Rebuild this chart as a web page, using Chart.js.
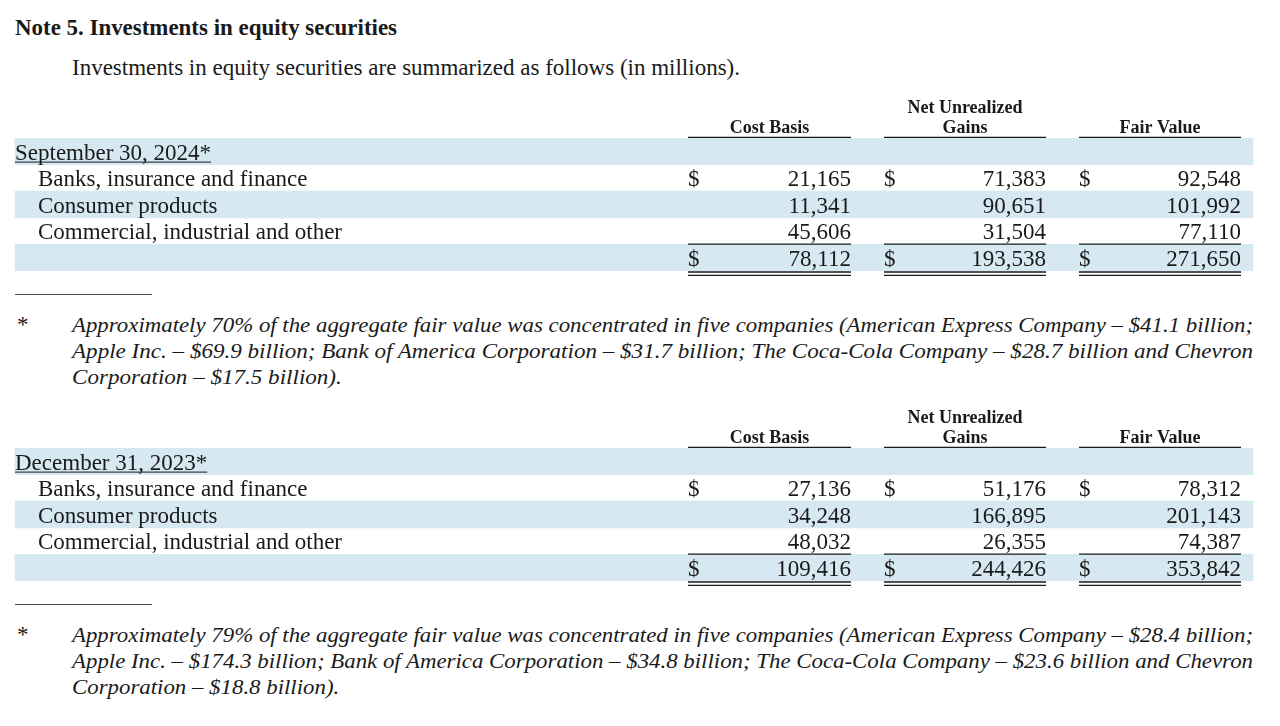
<!DOCTYPE html>
<html>
<head>
<meta charset="utf-8">
<script src="https://cdn.jsdelivr.net/npm/chart.js@4.4.1/dist/chart.umd.min.js"></script>
<style>
  html, body { margin: 0; padding: 0; background: #ffffff; }
  body { width: 1280px; height: 726px; position: relative; overflow: hidden;
         font-family: "Liberation Serif", "Times New Roman", serif; color: #1a1a1a; }
  .t { position: absolute; white-space: nowrap; line-height: 1; transform-origin: 0 0; }
  .title { font-weight: bold; font-size: 23px; }
  .sub { font-size: 23px; }
  .fn { font-style: italic; font-size: 22px; }
  .star { font-size: 23px; }
  .rule { position: absolute; height: 1px; background: #4a4a4a; }
  canvas { position: absolute; left: 0; }
</style>
</head>
<body>
<div class="t title" data-w="382" style="left:15px; top:15.7px;">Note 5. Investments in equity securities</div>
<div class="t sub" data-w="668" style="left:72px; top:56.2px;">Investments in equity securities are summarized as follows (in millions).</div>

<canvas id="table2024" width="1280" height="200" style="top:90px;"></canvas>
<canvas id="table2023" width="1280" height="200" style="top:400px;"></canvas>

<div id="notes"></div>

<script>
// ---------- DATA ----------
const categories = ['Banks, insurance and finance', 'Consumer products', 'Commercial, industrial and other'];
const columnHeaders = [['', 'Cost Basis'], ['Net Unrealized', 'Gains'], ['', 'Fair Value']];
const periods = ['September 30, 2024*', 'December 31, 2023*'];

const costBasis2024 = [21165, 11341, 45606];
const gains2024     = [71383, 90651, 31504];
const fairValue2024 = [92548, 101992, 77110];
const totals2024    = [78112, 193538, 271650];

const costBasis2023 = [27136, 34248, 48032];
const gains2023     = [51176, 166895, 26355];
const fairValue2023 = [78312, 201143, 74387];
const totals2023    = [109416, 244426, 353842];

const footnote2024 = [
  'Approximately 70% of the aggregate fair value was concentrated in five companies (American Express Company \u2013 $41.1 billion;',
  'Apple Inc. \u2013 $69.9 billion; Bank of America Corporation \u2013 $31.7 billion; The Coca-Cola Company \u2013 $28.7 billion and Chevron',
  'Corporation \u2013 $17.5 billion).'
];
const footnote2023 = [
  'Approximately 79% of the aggregate fair value was concentrated in five companies (American Express Company \u2013 $28.4 billion;',
  'Apple Inc. \u2013 $174.3 billion; Bank of America Corporation \u2013 $34.8 billion; The Coca-Cola Company \u2013 $23.6 billion and Chevron',
  'Corporation \u2013 $18.8 billion).'
];

// ---------- LAYOUT / STYLE ----------
const INK = '#1a1a1a';
const STRIPE = '#d6e8f2';
const layout = {
  labelX: 15, indentX: 38,
  colLeft: [688, 884, 1079],
  colRight: [851, 1046, 1241],
  stripeLeft: 15, stripeRight: 1253
};
const fmt = v => v.toLocaleString('en-US');

function cellPlugin(period, cols, totals) {
  return {
    id: 'tableCells',
    afterDatasetsDraw(chart) {
      const { ctx, scales: { x, y } } = chart;
      const band = y.getPixelForValue(1) - y.getPixelForValue(0);
      const bandTop = i => y.getPixelForValue(i) - band / 2;
      const base = i => y.getPixelForValue(i) + 8.3;
      ctx.save();
      ctx.fillStyle = INK;
      ctx.strokeStyle = INK;

      // column headers
      ctx.font = 'bold 18px "Liberation Serif"';
      ctx.textAlign = 'center';
      ctx.textBaseline = 'alphabetic';
      const top0 = bandTop(0);
      columnHeaders.forEach((h, c) => {
        const cx = (x.getPixelForValue(layout.colLeft[c]) + x.getPixelForValue(layout.colRight[c])) / 2;
        if (h[0]) ctx.fillText(h[0], cx, top0 - 25.3);
        ctx.fillText(h[1], cx, top0 - 5.3);
      });

      const hline = (x0, x1, yy, w) => {
        ctx.lineWidth = w;
        ctx.beginPath();
        ctx.moveTo(x.getPixelForValue(x0), yy);
        ctx.lineTo(x.getPixelForValue(x1), yy);
        ctx.stroke();
      };
      layout.colLeft.forEach((l, c) => hline(l, layout.colRight[c], top0 - 0.6, 1.4));

      // row labels
      ctx.font = '23px "Liberation Serif"';
      ctx.textAlign = 'left';
      const px = x.getPixelForValue(layout.labelX);
      ctx.fillText(period, px, base(0));
      const pw = ctx.measureText(period).width;
      ctx.lineWidth = 1;
      ctx.beginPath();
      ctx.moveTo(px, base(0) + 2.5);
      ctx.lineTo(px + pw, base(0) + 2.5);
      ctx.stroke();
      categories.forEach((cat, i) => ctx.fillText(cat, x.getPixelForValue(layout.indentX), base(i + 1)));

      // values
      const dollar = (r) => {
        ctx.textAlign = 'left';
        layout.colLeft.forEach(l => ctx.fillText('$', x.getPixelForValue(l), base(r)));
      };
      dollar(1);
      cols.forEach((series, c) => {
        ctx.textAlign = 'right';
        series.forEach((v, i) => ctx.fillText(fmt(v), x.getPixelForValue(layout.colRight[c]), base(i + 1)));
      });
      const totalRow = categories.length + 1;
      dollar(totalRow);
      ctx.textAlign = 'right';
      totals.forEach((v, c) => ctx.fillText(fmt(v), x.getPixelForValue(layout.colRight[c]), base(totalRow)));

      // sum rules
      const tTop = bandTop(totalRow);
      const tBot = tTop + band;
      layout.colLeft.forEach((l, c) => {
        hline(l, layout.colRight[c], tTop - 0.3, 1.2);
        hline(l, layout.colRight[c], tBot + 1.0, 1.4);
        hline(l, layout.colRight[c], tBot + 4.4, 1.4);
      });
      ctx.restore();
    }
  };
}

function makeTable(id, period, cols, totals) {
  const rows = [period, ...categories, 'Total'];
  const stripe = [layout.stripeLeft, layout.stripeRight];
  return new Chart(document.getElementById(id), {
    type: 'bar',
    data: {
      labels: rows,
      datasets: [{
        data: rows.map((_, i) => (i % 2 === 0 ? stripe : null)),
        backgroundColor: STRIPE,
        borderWidth: 0,
        barPercentage: 1,
        categoryPercentage: 1
      }]
    },
    options: {
      indexAxis: 'y',
      responsive: false,
      animation: false,
      devicePixelRatio: 1,
      events: [],
      layout: { padding: { top: 48, bottom: 19, left: 0, right: 0 } },
      scales: {
        x: { type: 'linear', min: 0, max: 1280, display: false },
        y: { type: 'category', display: false, offset: true }
      },
      plugins: { legend: { display: false }, tooltip: { enabled: false } }
    },
    plugins: [cellPlugin(period, cols, totals)]
  });
}

makeTable('table2024', periods[0], [costBasis2024, gains2024, fairValue2024], totals2024);
makeTable('table2023', periods[1], [costBasis2023, gains2023, fairValue2023], totals2023);

// ---------- FOOTNOTES ----------
const notes = document.getElementById('notes');
function addNote(lines, ruleY, firstBase) {
  const r = document.createElement('div');
  r.className = 'rule';
  r.style.cssText = `left:15px; width:137px; top:${ruleY}px;`;
  notes.appendChild(r);
  const s = document.createElement('div');
  s.className = 't star';
  s.textContent = '*';
  s.style.cssText = `left:17px; top:${firstBase - 19.3}px;`;
  notes.appendChild(s);
  const targets = [1181, 1181, null];
  lines.forEach((txt, i) => {
    const d = document.createElement('div');
    d.className = 't fn';
    d.textContent = txt;
    d.style.cssText = `left:72px; top:${firstBase + i * 26 - 18.4}px;`;
    if (targets[i]) d.dataset.w = targets[i];
    else d.dataset.follow = '1';
    notes.appendChild(d);
  });
}
addNote(footnote2024, 294, 332);
addNote(footnote2023, 604, 642);

// fit widths
let lastScale = 1;
document.querySelectorAll('.t').forEach(el => {
  if (el.dataset.w) {
    const w = el.getBoundingClientRect().width;
    lastScale = (+el.dataset.w) / w;
    el.style.transform = `scaleX(${lastScale})`;
  } else if (el.dataset.follow) {
    el.style.transform = `scaleX(${lastScale})`;
  }
});
</script>
</body>
</html>
